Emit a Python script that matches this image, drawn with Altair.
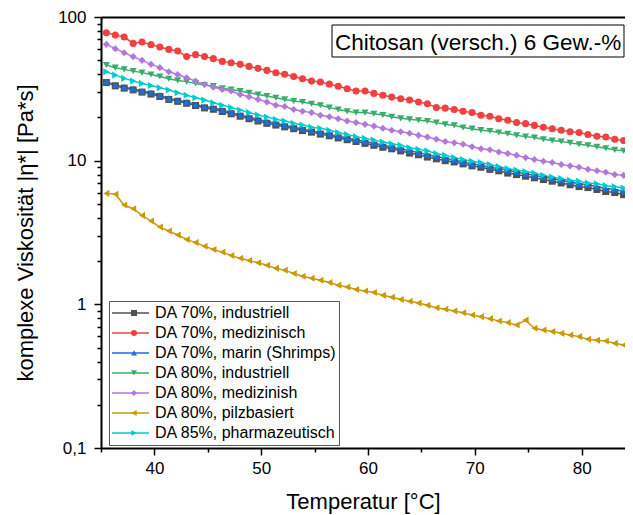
import altair as alt
import pandas as pd

FONT = "Liberation Sans"

series = ["DA 70%, industriell", "DA 70%, medizinisch", "DA 70%, marin (Shrimps)",
          "DA 80%, industriell", "DA 80%, medizinish", "DA 80%, pilzbasiert",
          "DA 85%, pharmazeutisch"]
colors = ["#515151", "#F14040", "#1A6FDF", "#37AD6B", "#B177DE", "#CC9900", "#00CBCC"]
shapes = ["square", "circle", "triangle-up", "triangle-down", "diamond",
          "triangle-left", "triangle-right"]

temperature = [35.50, 36.34, 37.17, 38.01, 38.84, 39.68, 40.51, 41.35, 42.18, 43.02,
               43.85, 44.69, 45.52, 46.36, 47.19, 48.03, 48.86, 49.70, 50.53, 51.37,
               52.20, 53.04, 53.87, 54.71, 55.54, 56.38, 57.21, 58.05, 58.88, 59.72,
               60.55, 61.39, 62.22, 63.06, 63.89, 64.73, 65.56, 66.40, 67.23, 68.07,
               68.90, 69.74, 70.57, 71.41, 72.24, 73.08, 73.91, 74.75, 75.58, 76.42,
               77.25, 78.09, 78.92, 79.76, 80.59, 81.43, 82.26, 83.10, 83.93, 84.77]

da70_industriell = [35.0, 33.2, 32.0, 31.1, 30.0, 29.1, 28.0, 26.7, 25.9, 25.1,
                    24.2, 23.3, 22.8, 22.0, 21.2, 20.4, 19.6, 18.9, 18.2, 17.7,
                    17.2, 16.7, 16.2, 15.8, 15.3, 14.9, 14.4, 14.0, 13.6, 13.2,
                    12.8, 12.4, 12.1, 11.7, 11.3, 11.0, 10.6, 10.3, 10.0, 9.8,
                    9.5, 9.2, 9.0, 8.7, 8.5, 8.2, 8.0, 7.8, 7.6, 7.4,
                    7.2, 7.0, 6.8, 6.6, 6.5, 6.3, 6.1, 6.0, 5.8, 5.7]
da70_medizinisch = [77.8, 74.8, 72.5, 65.5, 66.9, 64.2, 61.8, 59.5, 58.0, 53.0,
                    54.7, 53.0, 51.3, 49.1, 48.1, 46.8, 45.3, 43.9, 42.5, 40.9,
                    39.9, 38.5, 37.2, 35.8, 35.3, 34.1, 33.0, 31.7, 30.5, 30.5,
                    29.4, 28.5, 27.7, 27.0, 26.4, 25.6, 24.9, 23.4, 23.2, 22.7,
                    22.1, 21.6, 20.7, 20.4, 19.6, 19.1, 18.4, 18.1, 17.6, 17.1,
                    16.7, 16.3, 15.9, 15.7, 15.2, 14.8, 14.6, 14.1, 13.8, 13.7]
da70_marin = [35.5, 33.6, 32.5, 31.7, 30.5, 29.7, 28.5, 27.1, 26.3, 25.6,
              24.6, 23.8, 23.4, 22.5, 21.6, 20.8, 20.1, 19.4, 18.7, 18.2,
              17.6, 17.1, 16.6, 16.1, 15.7, 15.2, 14.8, 14.4, 14.0, 13.6,
              13.2, 12.8, 12.4, 12.1, 11.7, 11.4, 11.0, 10.7, 10.4, 10.1,
              9.8, 9.5, 9.3, 9.0, 8.8, 8.6, 8.3, 8.1, 7.9, 7.7,
              7.5, 7.3, 7.1, 6.9, 6.8, 6.6, 6.4, 6.3, 6.1, 6.0]
da80_industriell = [46.3, 44.4, 43.2, 42.0, 41.0, 39.8, 38.5, 37.2, 36.2, 35.5,
                    34.5, 33.6, 33.0, 31.9, 31.3, 30.5, 29.7, 28.9, 28.2, 27.4,
                    26.7, 26.0, 25.6, 24.9, 24.3, 23.4, 22.7, 22.1, 21.6, 21.6,
                    21.2, 20.8, 20.2, 19.7, 19.4, 19.1, 18.9, 18.4, 17.9, 17.6,
                    17.0, 16.7, 16.3, 16.1, 15.7, 15.4, 15.0, 14.7, 14.5, 14.1,
                    13.8, 13.6, 13.3, 13.0, 12.8, 12.5, 12.2, 11.9, 11.7, 11.2]
da80_medizinish = [64.5, 60.2, 56.4, 53.0, 49.9, 46.8, 44.4, 41.6, 39.8, 37.8,
                   35.8, 33.9, 32.5, 31.3, 30.5, 28.9, 27.9, 26.7, 25.6, 24.3,
                   23.8, 22.7, 22.1, 21.6, 20.7, 20.2, 19.6, 18.9, 18.4, 17.9,
                   17.4, 16.8, 16.3, 15.9, 15.5, 15.0, 14.6, 14.1, 13.6, 13.3,
                   13.0, 12.5, 12.1, 11.9, 11.5, 11.2, 10.9, 10.5, 10.2, 9.9,
                   9.7, 9.4, 9.2, 9.0, 8.7, 8.5, 8.3, 8.0, 7.9, 7.9]
da80_pilzbasiert = [5.92, 5.83, 4.91, 4.63, 4.16, 3.80, 3.45, 3.24, 3.04, 2.83,
                    2.69, 2.54, 2.41, 2.31, 2.19, 2.09, 2.02, 1.95, 1.87, 1.78,
                    1.73, 1.64, 1.57, 1.52, 1.47, 1.42, 1.36, 1.32, 1.27, 1.24,
                    1.21, 1.155, 1.12, 1.08, 1.05, 1.02, 0.984, 0.948, 0.923, 0.898,
                    0.875, 0.842, 0.821, 0.795, 0.765, 0.746, 0.718, 0.777, 0.681, 0.663,
                    0.646, 0.628, 0.612, 0.596, 0.571, 0.562, 0.555, 0.535, 0.521, 0.518]
da85_pharmazeutisch = [41.6, 39.4, 37.4, 35.8, 34.5, 33.4, 32.2, 31.0, 29.7, 28.5,
                       27.4, 26.4, 25.3, 24.3, 23.4, 22.5, 21.6, 20.8, 20.1, 19.4,
                       18.9, 18.2, 17.7, 17.1, 16.8, 16.3, 15.7, 15.2, 14.7, 14.3,
                       13.9, 13.5, 13.1, 12.8, 12.3, 12.0, 11.7, 11.2, 10.9, 10.5,
                       10.2, 9.9, 9.7, 9.4, 9.1, 8.8, 8.6, 8.4, 8.2, 7.9,
                       7.7, 7.5, 7.3, 7.2, 7.0, 6.9, 6.7, 6.6, 6.45, 6.3]

values = [da70_industriell, da70_medizinisch, da70_marin, da80_industriell,
          da80_medizinish, da80_pilzbasiert, da85_pharmazeutisch]

y_major = [0.1, 1, 10, 100]
y_minor = [0.2, 0.3, 0.4, 0.5, 0.6, 0.7, 0.8, 0.9, 2, 3, 4, 5, 6, 7, 8, 9,
           20, 30, 40, 50, 60, 70, 80, 90]
x_major = [40, 50, 60, 70, 80]
x_minor = [35, 45, 55, 65, 75]

title_text = "Chitosan (versch.) 6 Gew.-%"
x_title = "Temperatur [°C]"
y_title = "komplexe Viskosität |η*| [Pa*s]"

rows = []
for name, vals in zip(series, values):
    for t, v in zip(temperature, vals):
        rows.append({"series": name, "marker": name, "T": t, "v": v})
df = pd.DataFrame(rows)

LEG_X, LEG_Y = 8, 284
ROW_H = 19.8

legend_lines = alt.Legend(
    title=None, orient="none", legendX=LEG_X, legendY=LEG_Y, zindex=1,
    fillColor="white", strokeColor="#555555", padding=2,
    labelFont=FONT, labelFontSize=16, labelColor="black", labelOffset=5,
    labelLimit=400, symbolType="M-1,0H1", symbolSize=1369, symbolStrokeWidth=1.5,
    clipHeight=ROW_H, rowPadding=0, symbolOffset=0,
)
legend_markers = alt.Legend(
    title=None, orient="none", legendX=LEG_X, legendY=LEG_Y, zindex=2,
    fillColor="transparent", strokeColor="transparent", padding=2,
    labelFont=FONT, labelFontSize=16, labelExpr="''", labelOffset=5,
    labelLimit=400, symbolSize=36, symbolStrokeWidth=0,
    clipHeight=ROW_H, rowPadding=0, symbolOffset=15,
)

xscale = alt.Scale(domain=[35, 84.06], nice=False, zero=False)
yscale = alt.Scale(type="log", domain=[0.1, 100], nice=False)

common_axis = dict(grid=False, domainColor="black", tickColor="black", labelColor="black",
                   titleColor="black", labelFont=FONT, titleFont=FONT,
                   titleFontWeight="normal", labelFlush=False, labelOverlap=False)

x_axis_major = alt.Axis(orient="bottom", values=x_major, format="d", tickSize=7, tickWidth=1.5,
                        domainWidth=2, labelPadding=5, labelFontSize=17, title=x_title,
                        titleFontSize=22, titlePadding=15, **common_axis)
y_axis_major = alt.Axis(orient="left", values=y_major, format="~g",
                        labelExpr="replace(datum.label, '.', ',')",
                        tickSize=7, tickWidth=1.5, domainWidth=2, labelPadding=8,
                        labelFontSize=17, title=y_title, titleFontSize=22,
                        titlePadding=20, **common_axis)
x_axis_minor = alt.Axis(orient="bottom", values=x_minor, labels=False, domain=False,
                        tickSize=4, tickWidth=1.5, title=None, grid=False, tickColor="black")
y_axis_minor = alt.Axis(orient="left", values=y_minor, labels=False, domain=False,
                        tickSize=4, tickWidth=1.5, title=None, grid=False, tickColor="black")
x_axis_top = alt.Axis(orient="top", labels=False, ticks=False, domain=True, domainWidth=2,
                      domainColor="black", title=None, grid=False)

base = alt.Chart(df)

lines = base.mark_line(strokeWidth=1.5, clip=True).encode(
    x=alt.X("T:Q", scale=xscale, axis=x_axis_major),
    y=alt.Y("v:Q", scale=yscale, axis=y_axis_major),
    color=alt.Color("series:N", scale=alt.Scale(domain=series, range=colors),
                    legend=legend_lines),
)

points = base.mark_point(filled=True, size=50, opacity=1, clip=True).encode(
    x=alt.X("T:Q", scale=xscale, axis=x_axis_minor),
    y=alt.Y("v:Q", scale=yscale, axis=y_axis_minor),
    fill=alt.Fill("marker:N", scale=alt.Scale(domain=series, range=colors),
                  legend=legend_markers),
    shape=alt.Shape("marker:N", scale=alt.Scale(domain=series, range=shapes),
                    legend=legend_markers),
)

top = base.mark_point(opacity=0).encode(
    x=alt.X("T:Q", scale=xscale, axis=x_axis_top),
)

tdf = pd.DataFrame({"t": [title_text]})
box = alt.Chart(tdf).mark_rect(fill="white", stroke="black", strokeWidth=1).encode(
    x=alt.value(231), x2=alt.value(523), y=alt.value(8), y2=alt.value(40)
)
label = alt.Chart(tdf).mark_text(align="left", baseline="alphabetic", font=FONT,
                                 fontSize=22.5, color="black").encode(
    x=alt.value(234), y=alt.value(33), text="t:N"
)

chart = alt.layer(lines, points, top, box, label).resolve_axis(
    x="independent", y="independent"
).resolve_scale(
    fill="independent", shape="independent", color="independent"
).properties(
    width=524, height=431,
    autosize=alt.AutoSizeParams(type="none"),
    padding={"left": 93, "top": 9, "right": 0, "bottom": 70},
    background="white",
).configure_view(stroke=None)

chart.save("out.html", embed_options={"renderer": "svg", "actions": False})
